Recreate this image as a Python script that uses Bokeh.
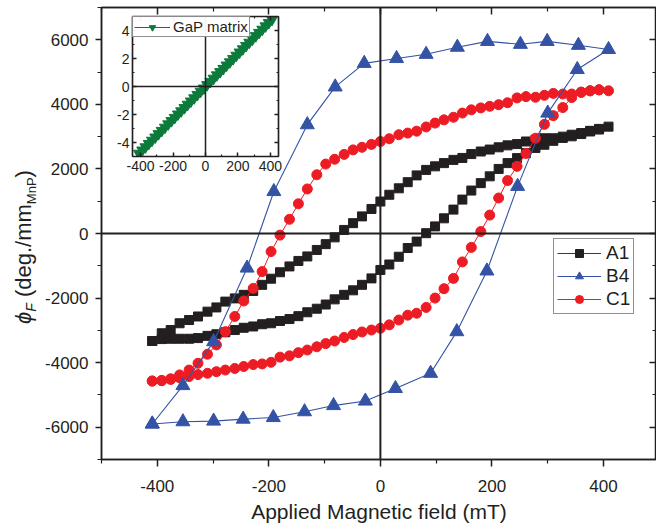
from bokeh.plotting import figure
from bokeh.models import Range1d, LinearAxis, Span, Legend, LegendItem, FixedTicker, Div
from bokeh.layouts import column
from bokeh.embed import file_html
from bokeh.resources import INLINE

# ---------------------------------------------------------------- data
# Field sweep for samples A1 and C1 (mT)
FIELD_UP = [-409, -392, -376, -360, -343, -327, -310, -294, -278, -261, -245, -228, -212,
            -196, -180, -163, -147, -131, -114, -98, -82, -65, -49, -33, -16, 0, 16, 33,
            49, 65, 82, 98, 114, 131, 147, 163, 180, 196, 212, 228, 245, 261, 278, 294,
            310, 327, 343, 360, 376, 392, 409]
FIELD_DOWN = FIELD_UP[::-1]

# Faraday rotation, A1 (deg./mm MnP)
A1_UP = [-3330, -3270, -3260, -3260, -3260, -3240, -3170, -3120, -3060, -2990, -2920, -2880,
         -2810, -2780, -2710, -2650, -2560, -2440, -2330, -2200, -2040, -1900, -1760, -1590,
         -1390, -1130, -960, -720, -450, -250, 10, 220, 470, 740, 1050, 1330, 1560, 1770,
         2000, 2180, 2335, 2490, 2650, 2750, 2870, 3000, 3060, 3110, 3180, 3240, 3310]
A1_DOWN = [3310, 3220, 3160, 3080, 3010, 2960, 2950, 2950, 2905, 2850, 2770, 2730, 2670,
           2600, 2540, 2460, 2340, 2280, 2180, 2080, 1970, 1800, 1590, 1400, 1200, 990, 760,
           530, 320, 110, -120, -330, -510, -710, -850, -1020, -1200, -1400, -1590, -1780,
           -1900, -2010, -2110, -2290, -2420, -2570, -2680, -2780, -2990, -3090, -3330]

# Faraday rotation, C1
C1_UP = [-4570, -4560, -4520, -4470, -4430, -4370, -4330, -4280, -4230, -4180, -4120, -4060,
         -4040, -3990, -3830, -3790, -3690, -3610, -3510, -3410, -3330, -3220, -3130, -3050,
         -2990, -2935, -2830, -2680, -2530, -2470, -2290, -2000, -1710, -1390, -880, -430,
         60, 570, 1100, 1640, 2080, 2480, 2950, 3380, 3650, 3900, 4210, 4380, 4420, 4450, 4420]
C1_DOWN = [4420, 4450, 4420, 4370, 4320, 4320, 4340, 4280, 4220, 4240, 4200, 4050, 3990,
           3940, 3890, 3830, 3730, 3600, 3520, 3420, 3300, 3170, 3110, 3060, 2935, 2850, 2760,
           2670, 2590, 2450, 2300, 2150, 1820, 1380, 920, 440, -50, -560, -1180, -1700, -2090,
           -2570, -3040, -3450, -3740, -4020, -4230, -4380, -4500, -4550, -4570]

# Sample B4 was measured on a coarser field grid
B4_FIELD_UP = [-409, -354, -299, -246, -192, -136, -84, -27, 27, 90, 137, 191, 246, 300, 353, 409]
B4_UP = [-5900, -5830, -5810, -5750, -5700, -5520, -5330, -5190, -4800, -4330, -3040, -1160,
         1460, 3730, 5080, 5700]
B4_FIELD_DOWN = [409, 355, 299, 251, 192, 138, 82, 29, -29, -81, -131, -191, -239, -299, -354, -409]
B4_DOWN = [5700, 5830, 5950, 5860, 5950, 5770, 5550, 5420, 5270, 4540, 3370, 1300, -1070,
           -3350, -4710, -5900]

# GaP matrix reference (inset), rotation in deg.
GAP_FIELD = [-410, -390, -370, -350, -330, -310, -290, -270, -250, -230, -210, -190, -170,
             -150, -130, -110, -90, -70, -50, -30, -10, 10, 30, 50, 70, 90, 110, 130, 150,
             170, 190, 210, 230, 250, 270, 290, 310, 330, 350, 370, 390, 410]
GAP_ROT = [-4.78, -4.55, -4.32, -4.08, -3.85, -3.62, -3.38, -3.15, -2.92, -2.68, -2.45, -2.22,
           -1.98, -1.75, -1.52, -1.28, -1.05, -0.82, -0.58, -0.35, -0.12, 0.12, 0.35, 0.58,
           0.82, 1.05, 1.28, 1.52, 1.75, 1.98, 2.22, 2.45, 2.68, 2.92, 3.15, 3.38, 3.62, 3.85,
           4.08, 4.32, 4.55, 4.78]

X_TICKS = [-400, -200, 0, 200, 400]
X_TICK_LABELS = ["-400", "-200", "0", "200", "400"]
X_MINOR = [-500, -300, -100, 100, 300, 500]
Y_TICKS = [-6000, -4000, -2000, 0, 2000, 4000, 6000]
Y_TICK_LABELS = ["-6000", "-4000", "-2000", "0", "2000", "4000", "6000"]
Y_MINOR = [-7000, -5000, -3000, -1000, 1000, 3000, 5000, 7000]
INSET_X_TICKS = [-400, -200, 0, 200, 400]
INSET_X_LABELS = ["-400", "-200", "0", "200", "400"]
INSET_X_MINOR = [-300, -100, 100, 300]
INSET_Y_TICKS = [-4, -2, 0, 2, 4]
INSET_Y_LABELS = ["-4", "-2", "0", "2", "4"]
INSET_Y_MINOR = [-5, -3, -1, 1, 3, 5]

FONT = "Liberation Sans"
INK = "#231f20"
BLACK = "#231f20"
RED = "#ed1c24"
BLUE = "#3453a5"
GREEN = "#0b7a3b"


def loop(up_x, up_y, down_x, down_y):
    return list(up_x) + list(down_x[1:]), list(up_y) + list(down_y[1:])


def style_axis(ax, ticks, labels, minor, label_size, tick_in, tick_out, minor_in, minor_out,
               show_labels=True, standoff=6):
    ax.ticker = FixedTicker(ticks=ticks, minor_ticks=minor)
    ax.axis_line_color = INK
    ax.axis_line_width = 1.5
    ax.major_tick_line_color = INK
    ax.major_tick_line_width = 1.5
    ax.minor_tick_line_color = INK
    ax.minor_tick_line_width = 1.2
    ax.major_tick_in = tick_in
    ax.major_tick_out = tick_out
    ax.minor_tick_in = minor_in
    ax.minor_tick_out = minor_out
    ax.major_label_text_font = FONT
    if show_labels:
        ax.major_label_overrides = dict(zip(ticks, labels))
        ax.major_label_text_color = INK
        ax.major_label_text_font_size = label_size
        ax.major_label_standoff = standoff
    else:
        # mirrored axis: ticks only, labels are not painted
        ax.major_label_overrides = {t: "" for t in ticks}
        ax.major_label_text_color = None
        ax.major_label_text_font_size = "1px"
        ax.major_label_standoff = 0


# ---------------------------------------------------------------- main plot
p = figure(width=656, height=526, output_backend="svg", toolbar_location=None,
           x_range=Range1d(-500, 495), y_range=Range1d(-7000, 7000),
           min_border_left=101, min_border_right=0, min_border_top=7, min_border_bottom=67,
           background_fill_color="white", border_fill_color="white")
p.xgrid.visible = False
p.ygrid.visible = False
p.outline_line_color = INK
p.outline_line_width = 1.5

style_axis(p.xaxis[0], X_TICKS, X_TICK_LABELS, X_MINOR, "17px", 0, 7, 0, 4, standoff=13)
style_axis(p.yaxis[0], Y_TICKS, Y_TICK_LABELS, Y_MINOR, "17px", 0, 6, 0, 4, standoff=7)
p.xaxis[0].axis_label = "Applied Magnetic field (mT)"
p.xaxis[0].axis_label_text_font = FONT
p.xaxis[0].axis_label_text_font_size = "21px"
p.xaxis[0].axis_label_text_font_style = "normal"
p.xaxis[0].axis_label_text_color = INK
p.xaxis[0].axis_label_standoff = 5

top_ax = LinearAxis()
style_axis(top_ax, X_TICKS, X_TICK_LABELS, X_MINOR, "0px", 7, 0, 4, 0, show_labels=False)
p.add_layout(top_ax, "above")
right_ax = LinearAxis()
style_axis(right_ax, Y_TICKS, Y_TICK_LABELS, Y_MINOR, "0px", 7, 0, 4, 0, show_labels=False)
p.add_layout(right_ax, "right")

p.add_layout(Span(location=0, dimension="height", line_color=INK, line_width=2))
p.add_layout(Span(location=0, dimension="width", line_color=INK, line_width=2))

ax1, ay1 = loop(FIELD_UP, A1_UP, FIELD_DOWN, A1_DOWN)
cx1, cy1 = loop(FIELD_UP, C1_UP, FIELD_DOWN, C1_DOWN)
bx4, by4 = loop(B4_FIELD_UP, B4_UP, B4_FIELD_DOWN, B4_DOWN)

a_line = p.line(ax1, ay1, line_color="#3a3a3a", line_width=1)
a_pts = p.scatter(ax1, ay1, marker="square", size=9, fill_color=BLACK, line_color=BLACK)
c_line = p.line(cx1, cy1, line_color=RED, line_width=1)
c_pts = p.scatter(cx1, cy1, marker="circle", size=10, fill_color=RED, line_color=RED)
b_line = p.line(bx4, by4, line_color=BLUE, line_width=1.1)
b_pts = p.scatter(bx4, by4, marker="triangle", size=14, fill_color=BLUE, line_color=BLUE)

legend = Legend(items=[LegendItem(label="A1", renderers=[a_line, a_pts]),
                       LegendItem(label="B4", renderers=[b_line, b_pts]),
                       LegendItem(label="C1", renderers=[c_line, c_pts])],
                location=(452, 145), margin=0, padding=3, spacing=1,
                glyph_width=44, glyph_height=20, label_standoff=5, label_height=20,
                label_text_font=FONT, label_text_font_size="19px", label_text_color=INK,
                border_line_color=INK, border_line_width=1, background_fill_color="white")
p.add_layout(legend)

# ---------------------------------------------------------------- y-axis title
# rotated HTML text so that the subscripts can sit below the baseline
ytitle = Div(
    text=("<span style='font-style:italic'>&#981;<sub style='font-size:14px'>F</sub></span>"
          " (deg./mm<sub style='font-size:13px'>MnP</sub>)"),
    styles={"position": "absolute", "left": "11px", "top": "324px", "margin": "0",
            "transform": "rotate(-90deg)", "transform-origin": "left top",
            "white-space": "nowrap", "font-family": FONT, "font-size": "22px",
            "color": INK, "line-height": "25px"})

# ---------------------------------------------------------------- inset
ins = figure(width=176, height=175, output_backend="svg", toolbar_location=None,
             x_range=Range1d(-450, 450), y_range=Range1d(-5, 5),
             min_border_left=24, min_border_right=6, min_border_top=9, min_border_bottom=26,
             background_fill_color="white", border_fill_alpha=0)
ins.xgrid.visible = False
ins.ygrid.visible = False
ins.outline_line_color = INK
ins.outline_line_width = 1.2
style_axis(ins.xaxis[0], INSET_X_TICKS, INSET_X_LABELS, INSET_X_MINOR, "14px", 4, 0, 2, 0,
           standoff=4)
style_axis(ins.yaxis[0], INSET_Y_TICKS, INSET_Y_LABELS, INSET_Y_MINOR, "14px", 4, 0, 2, 0,
           standoff=3)
ins_top = LinearAxis()
style_axis(ins_top, INSET_X_TICKS, INSET_X_LABELS, INSET_X_MINOR, "0px", 4, 0, 2, 0,
           show_labels=False)
ins.add_layout(ins_top, "above")
ins_right = LinearAxis()
style_axis(ins_right, INSET_Y_TICKS, INSET_Y_LABELS, INSET_Y_MINOR, "0px", 4, 0, 2, 0,
           show_labels=False)
ins.add_layout(ins_right, "right")
ins.add_layout(Span(location=0, dimension="height", line_color=INK, line_width=1.5))
ins.add_layout(Span(location=0, dimension="width", line_color=INK, line_width=1.5))

g_line = ins.line(GAP_FIELD, GAP_ROT, line_color=GREEN, line_width=1.2)
g_pts = ins.scatter(GAP_FIELD, GAP_ROT, marker="inverted_triangle", size=11,
                    fill_color=GREEN, line_color=GREEN)
ins_legend = Legend(items=[LegendItem(label="GaP matrix", renderers=[g_line, g_pts])],
                    location="top_left", margin=0, padding=1, spacing=0,
                    glyph_width=36, glyph_height=16, label_standoff=3, label_height=16,
                    label_text_font=FONT, label_text_font_size="15px", label_text_color=INK,
                    border_line_color=INK, border_line_width=1, background_fill_color="white")
ins.add_layout(ins_legend)

# the inset sits in its own wrapper, placed over the upper-left corner of the main plot
inset_box = column(ins, width=176, height=175,
                   styles={"position": "absolute", "left": "108px", "top": "7px"})

layout = column(p, inset_box, ytitle)

open("out.html", "w").write(file_html(layout, INLINE))
